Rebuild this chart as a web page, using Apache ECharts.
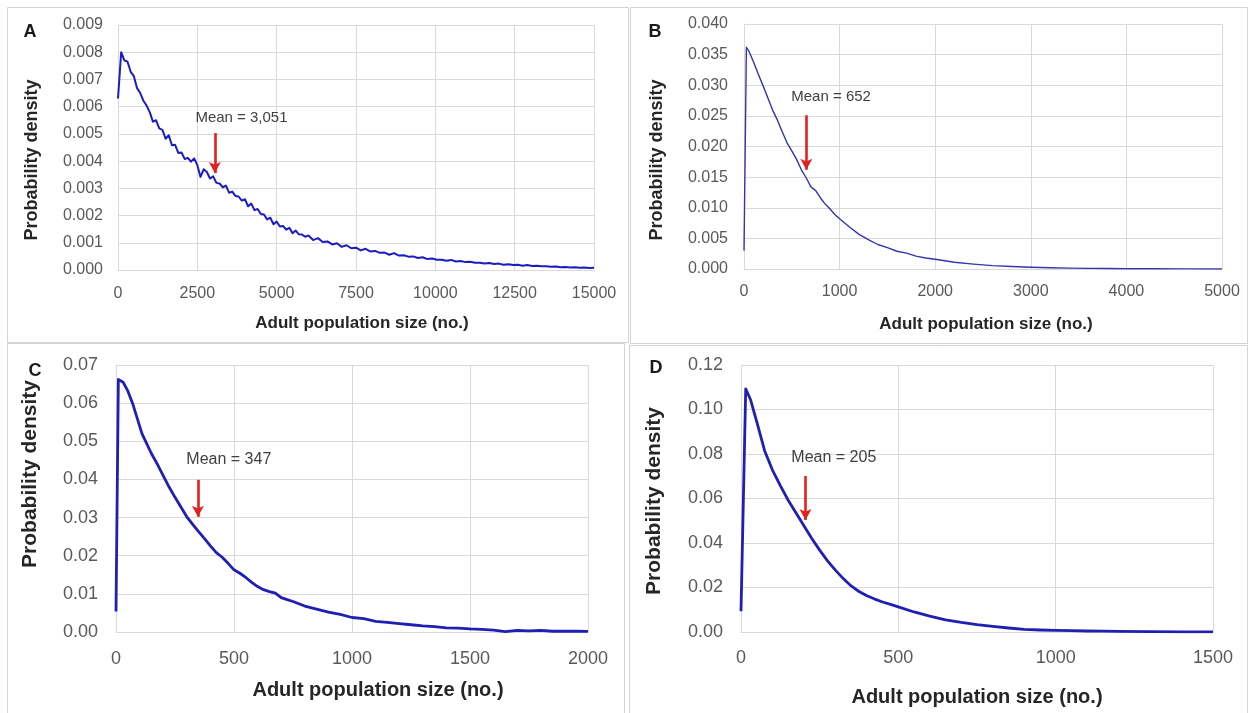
<!DOCTYPE html>
<html>
<head>
<meta charset="utf-8">
<script src="https://cdn.jsdelivr.net/npm/echarts@6/dist/echarts.min.js"></script>
<style>
html,body{margin:0;padding:0;background:#fff;}
#chart{width:1250px;height:713px;}
</style>
</head>
<body>
<div id="chart"></div>
<script>
// ---------------- DATA ----------------
const panelLetters = ['A', 'B', 'C', 'D'];
const xTitle = 'Adult population size (no.)';
const yTitle = 'Probability density';

// Panel A
const xA = [0,100,200,300,400,500,600,700,800,900,1000,1100,1200,1300,1400,1500,1600,1700,1800,1900,
  2000,2100,2200,2300,2400,2500,2600,2700,2800,2900,3000,3100,3200,3300,3400,3500,3600,3700,3800,3900,
  4000,4100,4200,4300,4400,4500,4600,4700,4800,4900,5000,5100,5200,5300,5400,5500,5600,5700,5800,5900,6000,
  6150,6300,6450,6600,6750,6900,7050,7200,7350,7500,7650,7800,7950,8100,8250,8400,8550,8700,8850,9000,
  9150,9300,9450,9600,9750,9900,10050,10200,10350,10500,10650,10800,10950,11100,11250,11400,11550,11700,11850,12000,
  12150,12300,12450,12600,12750,12900,13050,13200,13350,13500,13650,13800,13950,14100,14250,14400,14550,14700,14850,15000];
const yA = [0.00630,0.00800,0.00770,0.00765,0.00728,0.00712,0.00668,0.00650,0.00622,0.00604,0.00580,0.00545,0.00550,0.00520,0.00515,0.00482,0.00495,0.00458,0.00460,0.00430,
  0.00432,0.00408,0.00412,0.00398,0.00410,0.00385,0.00342,0.00370,0.00360,0.00336,0.00344,0.00320,0.00318,0.00304,0.00310,0.00284,0.00288,0.00272,0.00270,0.00255,
  0.00260,0.00234,0.00244,0.00220,0.00224,0.00206,0.00204,0.00186,0.00192,0.00168,0.00178,0.00160,0.00162,0.00148,0.00155,0.00135,0.00145,0.00131,0.00130,0.00122,0.00127,
  0.00110,0.00117,0.00103,0.00105,0.00094,0.00098,0.00085,0.00091,0.00080,0.00082,0.00072,0.00078,0.00068,0.00070,0.00063,0.00064,0.00056,0.00062,0.00053,0.00054,
  0.00049,0.00050,0.00044,0.00047,0.00040,0.00042,0.00038,0.00038,0.00034,0.00037,0.00031,0.00033,0.00029,0.00030,0.00027,0.00027,0.00024,0.00026,0.00022,0.000235,
  0.000195,0.000215,0.00018,0.00019,0.00016,0.000185,0.000145,0.000155,0.000135,0.00014,0.00012,0.00013,0.000105,0.00011,0.00009,0.000105,0.00008,0.00009,0.000075,0.00008];

// Panel B
const xB = [0,25,50,100,150,200,250,300,350,400,450,500,550,600,650,700,750,800,850,900,950,1000,
  1100,1200,1300,1400,1500,1600,1700,1800,1900,2000,2200,2400,2600,2800,3000,3200,3400,3600,3800,4000,4300,4600,5000];
const yB = [0.0030,0.0362,0.0356,0.0338,0.0318,0.0299,0.0279,0.0259,0.0243,0.0224,0.0206,0.0193,0.0179,0.0162,0.0149,0.0134,0.0128,0.0116,0.0106,0.0098,0.0089,0.0082,
  0.0069,0.0057,0.0048,0.0040,0.0035,0.0029,0.0026,0.0021,0.0018,0.0016,0.0011,0.0008,0.00055,0.0004,0.00028,0.0002,0.00014,0.0001,0.00007,0.00005,0.00003,0.00002,0.00001];

// Panel C
const xC = [0,10,30,50,70,90,110,130,150,175,200,225,250,275,300,325,350,375,400,425,450,475,500,525,550,575,600,625,650,675,700,725,750,
  800,850,900,950,1000,1050,1100,1150,1200,1250,1300,1350,1400,1450,1500,1550,1600,1650,1700,1750,1800,1850,1900,1950,2000];
const yC = [0.0054,0.0662,0.0655,0.0632,0.0600,0.0560,0.0520,0.0494,0.0468,0.0440,0.0410,0.0380,0.0353,0.0328,0.0302,0.0282,0.0263,0.0245,0.0226,0.0208,0.0196,0.0180,0.0163,0.0154,0.0143,0.0130,0.0119,0.0111,0.0106,0.0102,0.0090,0.0085,0.0080,
  0.0068,0.0060,0.0052,0.0046,0.0038,0.0035,0.0028,0.0025,0.0022,0.0019,0.0016,0.0014,0.0011,0.0010,0.0008,0.0007,0.0005,0.0001,0.0004,0.0003,0.0004,0.0002,0.00025,0.0002,0.00015];

// Panel D
const xD = [0,15,30,50,75,100,125,150,175,200,225,250,275,300,325,350,375,400,425,450,475,500,550,600,650,700,750,800,850,900,950,1000,1050,1100,1150,1200,1300,1400,1500];
const yD = [0.0093,0.1093,0.1045,0.0945,0.0815,0.0728,0.0658,0.0592,0.0535,0.0478,0.0420,0.0368,0.0320,0.0278,0.0240,0.0207,0.0182,0.0163,0.0148,0.0135,0.0124,0.0113,0.0090,0.0071,0.0055,0.0043,0.0033,0.0025,0.0018,0.0012,0.0009,0.0007,0.0006,0.00045,0.00035,0.0003,0.00015,0.0001,0.00005];

// Means (annotation)
const means = [3051, 652, 347, 205];
const meanLabels = ['Mean = 3,051', 'Mean = 652', 'Mean = 347', 'Mean = 205'];

// Tick labels
const xTicksA = ['0','2500','5000','7500','10000','12500','15000'];
const yTicksA = ['0.000','0.001','0.002','0.003','0.004','0.005','0.006','0.007','0.008','0.009'];
const xTicksB = ['0','1000','2000','3000','4000','5000'];
const yTicksB = ['0.000','0.005','0.010','0.015','0.020','0.025','0.030','0.035','0.040'];
const xTicksC = ['0','500','1000','1500','2000'];
const yTicksC = ['0.00','0.01','0.02','0.03','0.04','0.05','0.06','0.07'];
const xTicksD = ['0','500','1000','1500'];
const yTicksD = ['0.00','0.02','0.04','0.06','0.08','0.10','0.12'];

// ---------------- CHART ----------------
const FONT = 'Liberation Sans, Arial, sans-serif';
const GRIDC = '#d9d9d9';
const RED = '#e3201b';

const panels = [
  {xs:xA, ys:yA, xT:xTicksA, yT:yTicksA, xInt:2500, yInt:0.001, grid:{left:118,top:25,width:476,height:245},
   tick:16, xname:17, yname:18, nameGapX:45, nameGapY:77, xPad:[0,0,0,12], yPad:[0,25,0,0], lw:2, lc:'#1c1cc0',
   arrowTop:0.00503, arrowBot:0.00356, textPos:[3891,0.00558], fsMean:15, lblMarginX:16, lblMarginY:15},
  {xs:xB, ys:yB, xT:xTicksB, yT:yTicksB, xInt:1000, yInt:0.005, grid:{left:744,top:24,width:478,height:245},
   tick:16, xname:17, yname:18, nameGapX:47, nameGapY:78, xPad:[0,0,0,6], yPad:[0,27,0,0], lw:1.4, lc:'#3434b0',
   arrowTop:0.0251, arrowBot:0.0162, textPos:[911,0.0281], fsMean:15, lblMarginX:15, lblMarginY:16},
  {xs:xC, ys:yC, xT:xTicksC, yT:yTicksC, xInt:500, yInt:0.01, grid:{left:116,top:365,width:472,height:267},
   tick:18, xname:20, yname:21, nameGapX:48, nameGapY:75, xPad:[0,0,0,52], yPad:[0,0,0,49], lw:2.8, lc:'#1f1fb4',
   arrowTop:0.0399, arrowBot:0.0302, textPos:[478,0.0451], fsMean:16, lblMarginX:18, lblMarginY:18},
  {xs:xD, ys:yD, xT:xTicksD, yT:yTicksD, xInt:500, yInt:0.02, grid:{left:741,top:365,width:472,height:267},
   tick:18, xname:20, yname:21, nameGapX:55, nameGapY:76, xPad:[0,0,0,0], yPad:[0,5,0,0], lw:2.8, lc:'#1f1fb4',
   arrowTop:0.0701, arrowBot:0.0503, textPos:[295,0.0782], fsMean:16, lblMarginX:17, lblMarginY:18}
];

const grids = [], xAxes = [], yAxes = [], series = [];
panels.forEach((p, i) => {
  grids.push(Object.assign({containLabel:false}, p.grid));
  const xMax = p.xInt * (p.xT.length - 1);
  const yMax = p.yInt * (p.yT.length - 1);
  xAxes.push({
    type:'value', gridIndex:i, min:0, max:xMax, interval:p.xInt,
    name:xTitle, nameLocation:'middle', nameGap:p.nameGapX,
    nameTextStyle:{fontFamily:FONT, fontWeight:'bold', fontSize:p.xname, color:'#262626', padding:p.xPad},
    axisLine:{show:true, lineStyle:{color:GRIDC, width:1}},
    axisTick:{show:false},
    axisLabel:{fontFamily:FONT, fontSize:p.tick, color:'#595959', margin:p.lblMarginX,
      formatter:(v) => p.xT[Math.round(v / p.xInt)]},
    splitLine:{show:true, lineStyle:{color:GRIDC, width:1}}
  });
  yAxes.push({
    type:'value', gridIndex:i, min:0, max:yMax, interval:p.yInt,
    name:yTitle, nameLocation:'middle', nameGap:p.nameGapY,
    nameTextStyle:{fontFamily:FONT, fontWeight:'bold', fontSize:p.yname, color:'#262626', padding:p.yPad},
    axisLine:{show:true, lineStyle:{color:GRIDC, width:1}},
    axisTick:{show:false},
    axisLabel:{fontFamily:FONT, fontSize:p.tick, color:'#595959', margin:p.lblMarginY,
      formatter:(v) => p.yT[Math.round(v / p.yInt)]},
    splitLine:{show:true, lineStyle:{color:GRIDC, width:1}}
  });
  series.push({
    type:'line', xAxisIndex:i, yAxisIndex:i,
    data:p.xs.map((x, k) => [x, p.ys[k]]),
    showSymbol:false, symbol:'none', smooth:false, animation:false,
    lineStyle:{color:p.lc, width:p.lw, join:'round'},
    markLine:{
      silent:true, animation:false, symbol:['none','arrow'], symbolSize:[9,11],
      label:{show:false},
      lineStyle:{color:RED, width:2.6, type:'solid'},
      data:[[{coord:[means[i], p.arrowTop]}, {coord:[means[i], p.arrowBot]}]]
    },
    markPoint:{
      silent:true, animation:false, symbol:'circle', symbolSize:1,
      itemStyle:{color:'rgba(0,0,0,0)'},
      label:{show:true, position:'inside', fontFamily:FONT, fontSize:p.fsMean, color:'#404040',
        formatter:meanLabels[i]},
      data:[{coord:p.textPos}]
    }
  });
});

const borders = [
  {x:7, y:7, w:621, h:335},
  {x:630, y:7, w:617, h:336},
  {x:7, y:343, w:617, h:372},
  {x:629, y:345, w:618, h:370}
];
const letterPos = [[30,32],[655,32],[35,371],[656,368]];

const graphic = [];
borders.forEach(b => graphic.push({type:'rect', silent:true, z:-1,
  shape:{x:b.x+0.5, y:b.y+0.5, width:b.w, height:b.h},
  style:{fill:'none', stroke:'#d4d4d4', lineWidth:1}}));
panelLetters.forEach((t, i) => graphic.push({type:'text', silent:true,
  x:letterPos[i][0], y:letterPos[i][1],
  style:{text:t, font:'bold 18px ' + FONT, fill:'#1a1a1a', align:'center', verticalAlign:'middle'}}));

const chart = echarts.init(document.getElementById('chart'), null, {renderer:'canvas'});
chart.setOption({
  animation:false,
  backgroundColor:'#ffffff',
  grid:grids, xAxis:xAxes, yAxis:yAxes, series:series,
  graphic:graphic
});
</script>
</body>
</html>
